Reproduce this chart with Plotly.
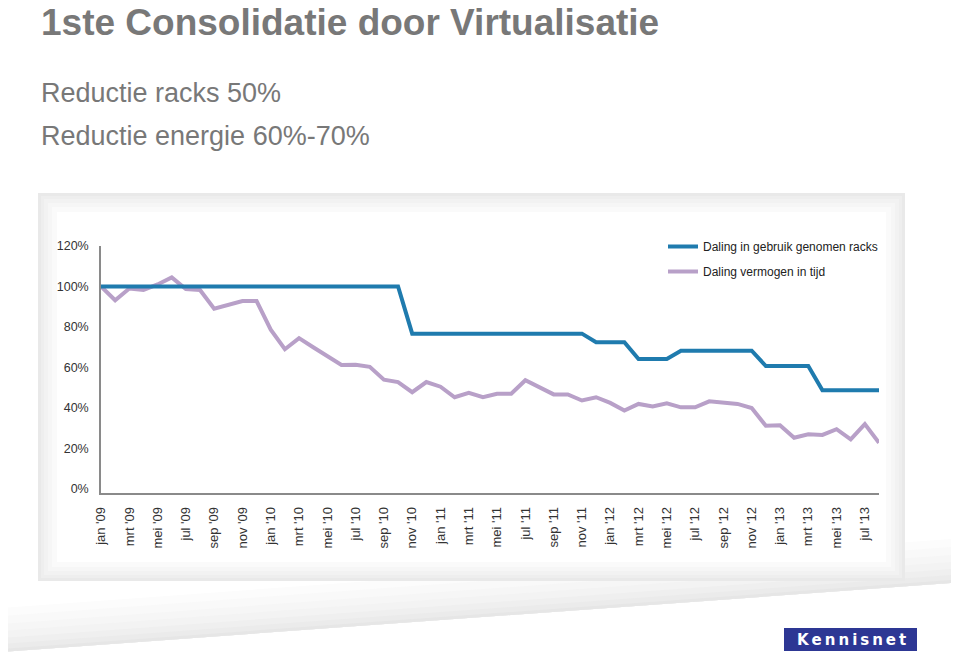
import plotly.graph_objects as go

# ---- data ----
months = list(range(56))  # jan '09 .. aug '13
racks = [100]*22 + [76.7]*13 + [72.5]*3 + [64.2]*3 + [68.3]*6 + [60.7]*4 + [48.7]*5
vermogen = [100, 93.2, 99, 98.3, 101, 104.5, 98.7, 98.3, 89, 91, 92.8, 92.8,
            78.7, 69, 74.5, 70, 65.7, 61.2, 61.3, 60.3, 54, 52.8, 47.8, 52.8,
            50.5, 45.3, 47.5, 45.3, 47, 47, 53.7, 50, 46.7, 46.7, 43.7, 45.3,
            42.5, 38.7, 42, 40.7, 42.3, 40.3, 40.3, 43.3, 42.8, 42, 40, 31.2,
            31.5, 25.3, 27, 26.7, 29.5, 24.5, 32, 22.8]
tick_vals = list(range(0, 56, 2))
tick_labels = ["jan '09", "mrt '09", "mei '09", "jul '09", "sep '09", "nov '09",
               "jan '10", "mrt '10", "mei '10", "jul '10", "sep '10", "nov '10",
               "jan '11", "mrt '11", "mei '11", "jul '11", "sep '11", "nov '11",
               "jan '12", "mrt '12", "mei '12", "jul '12", "sep '12", "nov '12",
               "jan '13", "mrt '13", "mei '13", "jul '13"]
y_ticks = [0, 20, 40, 60, 80, 100, 120]
name_racks = "Daling in gebruik genomen racks"
name_verm = "Daling vermogen in tijd"

W, H = 959, 655
OFF = 8  # page body margin
L_ref, R_ref, T_ref, B_ref = 101, 879, 246, 493
L, R, T, B = L_ref - OFF, R_ref - OFF, T_ref - OFF, B_ref - OFF
FONT = "Liberation Sans, Arial, Helvetica, sans-serif"

def px(x):
    return (x - OFF - L) / (R - L)

def py(y):
    return (B - (y - OFF)) / (B - T)

fig = go.Figure()
fig.add_trace(go.Scatter(x=months, y=vermogen, mode="lines", name=name_verm,
                         line=dict(color="#b8a0c8", width=4),
                         legendrank=2, legendgroup="b"))
fig.add_trace(go.Scatter(x=months, y=racks, mode="lines", name=name_racks,
                         line=dict(color="#1f7bae", width=4),
                         legendrank=1, legendgroup="a"))

shapes = []
# swoosh band below panel (smooth-ish gradient)
def band(y_left_top, y_right_top, y_left_bot, y_right_bot, col):
    p = "M {},{} L {},{} L {},{} L {},{} Z".format(
        px(0), py(y_left_bot), px(966), py(y_right_bot),
        px(966), py(y_right_top), px(0), py(y_left_top))
    return dict(type="path", xref="paper", yref="paper", path=p,
                fillcolor=col, line=dict(width=0), layer="below")

for d, col in [(44, "#fcfcfc"), (36, "#f9f9f9"), (28, "#f6f6f6"), (21, "#f3f3f3"),
               (14, "#efefef"), (8, "#ebebeb"), (3, "#e6e6e6")]:
    shapes.append(band(652 - d, 582 - d, 652, 582, col))

# panel frame with soft gradient edge
steps = [("#e9e9e9", 0), ("#eeeeee", 3), ("#f2f2f2", 6), ("#f6f6f6", 10),
         ("#fafafa", 14), ("#ffffff", 19)]
for col, d in steps:
    shapes.append(dict(type="rect", xref="paper", yref="paper",
                       x0=px(38 + d), x1=px(905 - d), y0=py(581 - d), y1=py(193 + d),
                       fillcolor=col, line=dict(width=0), layer="below"))

# logo box
shapes.append(dict(type="rect", xref="paper", yref="paper",
                   x0=px(784), x1=px(917), y0=py(651), y1=py(628),
                   fillcolor="#2d3794", line=dict(width=0), layer="above"))

annotations = [
    dict(text="<b>1ste Consolidatie door Virtualisatie</b>", x=px(39), y=py(22),
         xref="paper", yref="paper", xanchor="left", yanchor="middle",
         showarrow=False, font=dict(family=FONT, size=37, color="#787878")),
    dict(text="Reductie racks 50%", x=px(39), y=py(93),
         xref="paper", yref="paper", xanchor="left", yanchor="middle",
         showarrow=False, font=dict(family=FONT, size=27, color="#787878")),
    dict(text="Reductie energie 60%-70%", x=px(39), y=py(136),
         xref="paper", yref="paper", xanchor="left", yanchor="middle",
         showarrow=False, font=dict(family=FONT, size=27, color="#787878")),
    dict(text="<b>K\u2009e\u2009n\u2009n\u2009i\u2009s\u2009n\u2009e\u2009t</b>",
         x=px(851), y=py(639.5),
         xref="paper", yref="paper", xanchor="center", yanchor="middle",
         showarrow=False, font=dict(family="DejaVu Sans, sans-serif", size=15, color="#ffffff")),
]

fig.update_layout(
    width=W, height=H,
    margin=dict(l=L, r=W - R, t=T, b=H - B, pad=0),
    paper_bgcolor="#ffffff", plot_bgcolor="rgba(0,0,0,0)",
    font=dict(family=FONT, size=12, color="#333333"),
    showlegend=True,
    legend=dict(x=px(663), y=py(232), xanchor="left", yanchor="top",
                bgcolor="rgba(0,0,0,0)", traceorder="grouped", tracegroupgap=6,
                font=dict(family=FONT, size=12, color="#222222")),
    shapes=shapes,
    annotations=annotations,
    xaxis=dict(range=[0, 55], tickmode="array", tickvals=tick_vals, ticktext=tick_labels,
               tickangle=-90, showgrid=False, zeroline=False, showline=True,
               linecolor="#8a8a8a", linewidth=1.5, ticks="", ticklabelstandoff=7,
               tickfont=dict(family=FONT, size=13, color="#333333")),
    yaxis=dict(range=[-2, 120], tickmode="array", tickvals=y_ticks,
               ticktext=[f"{v}%" for v in y_ticks],
               showgrid=False, zeroline=False, showline=True,
               linecolor="#8a8a8a", linewidth=1.5, ticks="", ticklabelstandoff=8,
               tickfont=dict(family=FONT, size=12.5, color="#333333")),
)

fig.write_html("out.html")
